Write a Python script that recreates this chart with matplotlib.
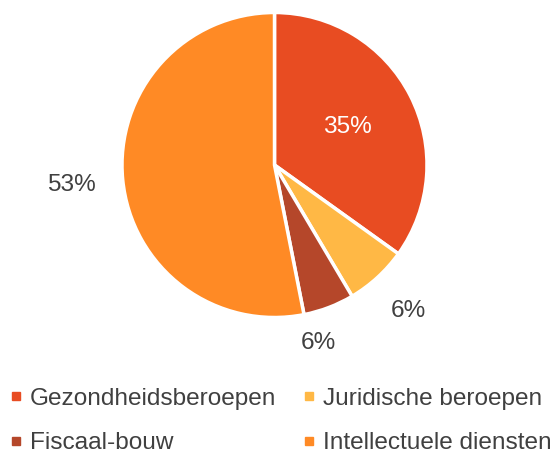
import matplotlib.pyplot as plt
import numpy as np
from matplotlib.lines import Line2D

plt.rcParams['font.family'] = ['Liberation Sans', 'DejaVu Sans']

# data
categories = ['Gezondheidsberoepen', 'Juridische beroepen', 'Fiscaal-bouw', 'Intellectuele diensten']
shares = [34.9, 6.6, 5.4, 53.1]
labels = ['35%', '6%', '6%', '53%']
colors = ['#E84C22', '#FFB845', '#B5472A', '#FF8A25']
label_dist = [0.54, 1.30, 1.2, 1.34]
label_shift = [0, 0, -7, 0]   # degrees, nudge away from neighbour label
label_color = ['white', '#404040', '#404040', '#404040']

fig = plt.figure(figsize=(5.59, 4.54), dpi=100)
cx, cy, r = 274.5, 165, 152.5
ax = fig.add_axes([(cx - r) / 559, (454 - cy - r) / 454, 2 * r / 559, 2 * r / 454])

wedges, _ = ax.pie(shares, colors=colors, startangle=90, counterclock=False,
                   wedgeprops=dict(edgecolor='white', linewidth=2.5))
ax.set_xlim(-1, 1)
ax.set_ylim(-1, 1)
ax.set_aspect('equal')

for w, lab, d, s, c in zip(wedges, labels, label_dist, label_shift, label_color):
    ang = np.deg2rad((w.theta1 + w.theta2) / 2 + s)
    ax.text(d * np.cos(ang), d * np.sin(ang), lab, ha='center', va='center',
            fontsize=17.6, color=c)

# legend is filled row by row in the reference
order = [0, 2, 1, 3]
handles = [Line2D([], [], marker='s', linestyle='none', markersize=6.3,
                  markerfacecolor=colors[i], markeredgecolor=colors[i]) for i in order]
leg = fig.legend(handles, [categories[i] for i in order], ncol=2, loc='center left',
                 bbox_to_anchor=(-0.021, 0.073), frameon=False, fontsize=17.6,
                 handlelength=0.45, handletextpad=0.35, columnspacing=1.1,
                 labelspacing=0.92, labelcolor='#404040')

fig.savefig('out.png', dpi=100)
